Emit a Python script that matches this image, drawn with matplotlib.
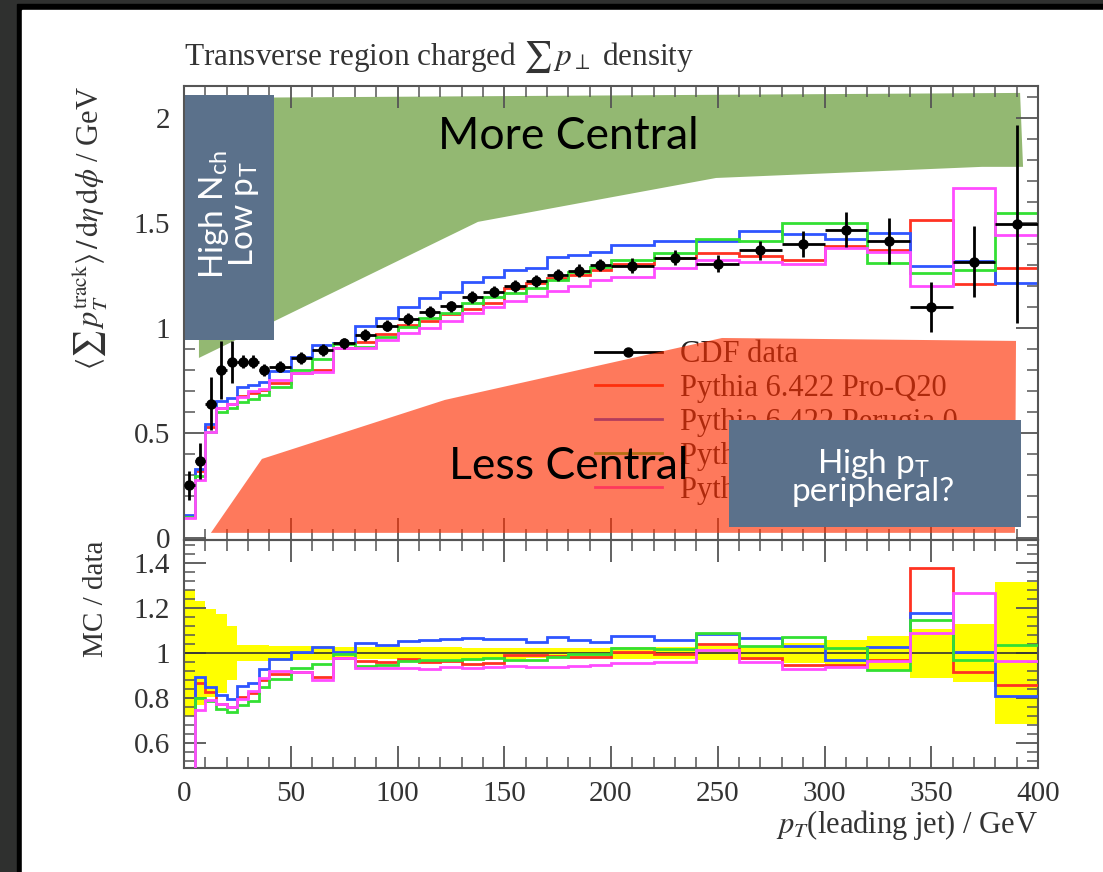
import numpy as np
import matplotlib.pyplot as plt
from matplotlib.patches import Polygon, Rectangle
from matplotlib.lines import Line2D
from matplotlib.ticker import MultipleLocator

plt.rcParams['font.family'] = ['Liberation Serif', 'DejaVu Serif']
plt.rcParams['mathtext.fontset'] = 'stix'

###################################################################################
# Data: transverse region charged sum pT density vs leading jet pT
###################################################################################
edges = [0, 5, 10, 15, 20, 25, 30, 35, 40, 50, 60, 70, 80, 90, 100, 110, 120, 130,
         140, 150, 160, 170, 180, 190, 200, 220, 240, 260, 280, 300, 320, 340, 360,
         380, 400]

cdf = [0.25, 0.367, 0.64, 0.80, 0.84, 0.84, 0.84, 0.80,
       0.815, 0.857, 0.895, 0.927, 0.967, 1.011, 1.043, 1.078, 1.102, 1.146, 1.173,
       1.20, 1.225, 1.252, 1.273, 1.30,
       1.297, 1.335, 1.305, 1.37, 1.40, 1.467, 1.414, 1.10, 1.316, 1.495]
cdf_err = [0.07, 0.085, 0.125, 0.14, 0.10, 0.03, 0.03, 0.028,
           0.027, 0.027, 0.027, 0.027, 0.027, 0.027, 0.028, 0.028, 0.028, 0.028, 0.028,
           0.029, 0.029, 0.03, 0.03, 0.03,
           0.035, 0.035, 0.04, 0.045, 0.06, 0.083, 0.11, 0.12, 0.17, 0.47]

pro_q20 = [0.10, 0.318, 0.53, 0.62, 0.64, 0.675, 0.69, 0.705,
           0.74, 0.785, 0.80, 0.905, 0.935, 0.97, 1.015, 1.035, 1.065, 1.09, 1.12,
           1.19, 1.215, 1.236, 1.252, 1.276,
           1.303, 1.332, 1.359, 1.343, 1.324, 1.39, 1.371, 1.514, 1.208, 1.284]
perugia0 = [0.11, 0.328, 0.544, 0.65, 0.667, 0.719, 0.73, 0.744,
            0.795, 0.86, 0.919, 0.93, 1.011, 1.046, 1.10, 1.141, 1.173, 1.221, 1.244,
            1.276, 1.284, 1.34, 1.348, 1.362,
            1.395, 1.414, 1.414, 1.462, 1.446, 1.422, 1.451, 1.295, 1.32, 1.213]
tune3 = [0.10, 0.294, 0.505, 0.60, 0.62, 0.645, 0.66, 0.68,
         0.72, 0.80, 0.85, 0.925, 0.911, 0.959, 1.005, 1.046, 1.07, 1.117, 1.149,
         1.165, 1.19, 1.229, 1.268, 1.292,
         1.324, 1.359, 1.424, 1.414, 1.498, 1.498, 1.31, 1.262, 1.276, 1.549]
tune4 = [0.095, 0.275, 0.506, 0.62, 0.64, 0.67, 0.70, 0.71,
         0.75, 0.785, 0.79, 0.905, 0.905, 0.943, 0.975, 1.0, 1.035, 1.07, 1.10,
         1.13, 1.15, 1.175, 1.20, 1.229,
         1.241, 1.284, 1.324, 1.316, 1.303, 1.379, 1.363, 1.20, 1.665, 1.443]

mc_labels = ['Pythia 6.422 Pro-Q20', 'Pythia 6.422 Perugia 0',
             'Pythia 6.422 DW', 'Pythia 6.422 Pro-pT0']
mc_colors = ['#ff3322', '#2f55ff', '#33e033', '#ff4cff']

# slide overlays (data coordinates of the upper panel)
green_x = [7, 391.6, 393, 373.8, 249.2, 137.7, 7]
green_y = [2.095, 2.119, 1.767, 1.767, 1.714, 1.505, 0.857]
red_x = [12.6, 36.5, 122.2, 252, 389.7, 389.2]
red_y = [0.024, 0.376, 0.657, 0.952, 0.938, 0.024]
box1 = (0.5, 0.943, 41.8, 1.167)   # x, y, w, h
box2 = (255.3, 0.052, 136.7, 0.51)

###################################################################################
# Figure
###################################################################################
fig = plt.figure(figsize=(11.03, 8.72), dpi=100, facecolor='#2f302f')
W, H = 1103.0, 872.0
fig.patches.append(Rectangle((17 / W, 0), 1, 1 - 4 / H, transform=fig.transFigure,
                             color='black', zorder=-2))
fig.patches.append(Rectangle((22 / W, 0), 1, 1 - 10 / H, transform=fig.transFigure,
                             color='white', zorder=-1))

ax = fig.add_axes([184 / W, 1 - 540 / H, 854 / W, 454 / H])
ax2 = fig.add_axes([184 / W, 1 - 768 / H, 854 / W, 228 / H], sharex=ax)

e = np.array(edges)
centers = 0.5 * (e[1:] + e[:-1])
halfw = 0.5 * (e[1:] - e[:-1])
data = np.array(cdf)
derr = np.array(cdf_err)
mcs = [np.array(v) for v in (pro_q20, perugia0, tune3, tune4)]

# upper panel
for vals, col, lab in zip(mcs, mc_colors, mc_labels):
    ax.stairs(vals, e, baseline=None, color=col, lw=2.0, zorder=2, label=lab)
ax.errorbar(centers, data, xerr=halfw, yerr=derr, fmt='o', color='black', ms=6.5,
            elinewidth=2.0, capsize=0, zorder=4, label='CDF data')

ax.add_patch(Polygon(np.column_stack([green_x, green_y]), closed=True,
                     facecolor='#93b872', edgecolor='none', zorder=1))
ax.add_patch(Polygon(np.column_stack([red_x, red_y]), closed=True,
                     facecolor='#fe2e00', alpha=0.64, edgecolor='none', zorder=3))
ax.add_patch(Rectangle(box1[:2], box1[2], box1[3], facecolor='#5b718b',
                       edgecolor='none', zorder=6))
ax.add_patch(Rectangle(box2[:2], box2[2], box2[3], facecolor='#5b718b',
                       edgecolor='none', zorder=6))

sans = ['Lato', 'DejaVu Sans']
ax.text(180, 1.91, 'More Central', family=sans, fontsize=32, ha='center',
        va='center', zorder=5)
ax.text(180, 0.338, 'Less Central', family=sans, fontsize=32, ha='center',
        va='center', zorder=5)
ax.text(21.0, 1.54, 'High N$_{\\mathregular{ch}}$\nLow p$_{\\mathregular{T}}$',
        family=sans, fontsize=24, color='white', rotation=90, ha='center',
        va='center', multialignment='center', linespacing=0.85, zorder=7)
ax.text(322.7, 0.29, 'High p$_{\\mathregular{T}}$\nperipheral?', family=sans,
        fontsize=24, color='white', ha='center', va='center',
        multialignment='center', linespacing=0.85, zorder=7)

handles = [Line2D([], [], color='black', marker='o', ms=6.5, lw=2.0)]
handles += [Line2D([], [], color=c, lw=2.0) for c in mc_colors]
leg = ax.legend(handles, ['CDF data'] + mc_labels, loc='upper left',
                bbox_to_anchor=(0.481, 0.44), frameon=False, fontsize=22,
                borderpad=0, borderaxespad=0, handlelength=2.2,
                handletextpad=0.6, labelspacing=0.16)
for t in leg.get_texts():
    t.set_color('#222222')
leg.set_zorder(2.5)

ax.set_xlim(0, 400)
ax.set_ylim(-0.01, 2.152)
ax.yaxis.set_major_locator(MultipleLocator(0.5))
ax.yaxis.set_minor_locator(MultipleLocator(0.1))
ax.set_yticks([0, 0.5, 1, 1.5, 2], ['0', '0.5', '1', '1.5', '2'])
ax.set_title('Transverse region charged $\\sum\\, p_\\perp$ density', loc='left',
             fontsize=22.5, pad=15, color='#333333')
ax.set_ylabel('$\\langle \\sum\\, p_T^{\\rm track} \\rangle\\, /\\, {\\rm d}\\eta\\, '
              '{\\rm d}\\phi$ / GeV', loc='top', fontsize=22, color='#333333')
ax.yaxis.set_label_coords(-0.088, 1.0)

# ratio panel
rel = derr / data
ax2.stairs(1 + rel, e, baseline=1 - rel, fill=True, color='#ffff00', lw=0, zorder=1)
ax2.axhline(1, color='#333333', lw=1.2, zorder=2)
for vals, col in zip(mcs, mc_colors):
    ax2.stairs(vals / data, e, baseline=None, color=col, lw=2.0, zorder=3)
ax2.set_ylim(0.49, 1.502)
ax2.yaxis.set_major_locator(MultipleLocator(0.2))
ax2.yaxis.set_minor_locator(MultipleLocator(0.04))
ax2.set_yticks([0.6, 0.8, 1.0, 1.2, 1.4], ['0.6', '0.8', '1', '1.2', '1.4'])
ax2.xaxis.set_major_locator(MultipleLocator(50))
ax2.xaxis.set_minor_locator(MultipleLocator(10))
ax2.set_ylabel('MC / data', loc='top', fontsize=21, color='#333333')
ax2.yaxis.set_label_coords(-0.088, 1.0)
ax2.set_xlabel('$p_T$(leading jet) / GeV', loc='right', fontsize=22, color='#333333')
ax2.xaxis.set_label_coords(1.0, -0.175)

for a in (ax, ax2):
    a.set_facecolor('none')
    for s in a.spines.values():
        s.set_color('#555555')
        s.set_linewidth(1.5)
    a.tick_params(which='both', direction='in', top=True, right=True,
                  colors='#555555', labelcolor='#333333', labelsize=21)
    a.tick_params(which='major', length=16, width=1.3)
    a.tick_params(which='minor', length=8, width=1.1)
    a.tick_params(axis='y', pad=10)
    a.tick_params(axis='x', pad=9)
ax.tick_params(labelbottom=False)

fig.savefig('out.png', dpi=100, facecolor=fig.get_facecolor())
